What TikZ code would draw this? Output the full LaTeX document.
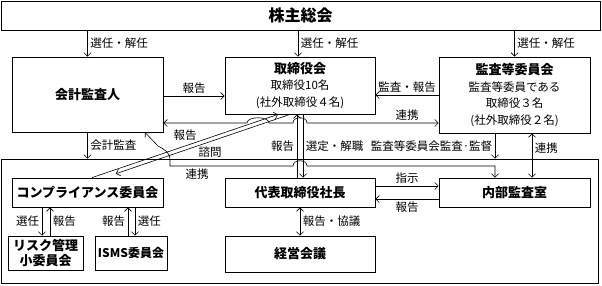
\documentclass[tikz,border=0pt]{standalone}
\usepackage{fontspec}
\setmainfont{Noto Sans CJK JP}
\usetikzlibrary{positioning,arrows.meta}

\begin{document}
\begin{tikzpicture}[x=1pt,y=-1pt,line width=0.6pt,node distance=2cm,on grid,
    >={Straight Barb[length=3.5pt,width=7pt]},
    box/.style={draw,line width=0.8pt,inner sep=0pt,align=center,font=\fontsize{13}{15}\selectfont\bfseries},
    boxm/.style={box,font=\fontsize{11.5}{16.5}\selectfont},
    lbl/.style={font=\fontsize{11.5}{14}\selectfont,inner sep=2.5pt}]
    \useasboundingbox (0,0) rectangle (602,285);
    \node[box,minimum width=599pt,minimum height=29pt,font=\fontsize{16}{18}\selectfont\bfseries] (kabu) at (300.5,15.5) {株主総会};
    \node[box,minimum width=151pt,minimum height=75pt] (kaikei) at (87.5,94.5) {会計監査人};
    \node[boxm,minimum width=150pt,minimum height=57pt] (torishimari) at (300,85.5)
        {{\bfseries\fontsize{13}{16.5}\selectfont 取締役会}\\取締役10名\\(社外取締役４名)};
    \node[boxm,minimum width=151pt,minimum height=76pt] (kansa) at (514.5,95)
        {{\bfseries\fontsize{13}{16.5}\selectfont 監査等委員会}\\監査等委員である\\取締役３名\\(社外取締役２名)};
    \node[box,minimum width=597pt,minimum height=124pt] (shikko) at (299.5,221) {};
    \node[box,minimum width=151pt,minimum height=29pt] (comp) at (87.5,192.5) {コンプライアンス委員会};
    \node[box,minimum width=150pt,minimum height=29pt] (shacho) [below=107pt of torishimari] {代表取締役社長};
    \node[box,minimum width=151pt,minimum height=29pt] (naibu) [below=97.5pt of kansa] {内部監査室};
    \node[box,minimum width=150pt,minimum height=36pt] (keiei) [below=61.5pt of shacho] {経営会議};
    \node[box,minimum width=75pt,minimum height=34pt,font=\fontsize{13}{15}\selectfont\bfseries] (risk) at (45.5,253) {リスク管理\\小委員会};
    \node[box,minimum width=72pt,minimum height=34pt,font=\fontsize{12}{14}\selectfont\bfseries] (isms) at (131,253) {ISMS委員会};

    \path[->]
    (kaikei.north |- kabu.south) edge node[lbl,right] {選任・解任} (kaikei.north)
    ([xshift=-2pt]torishimari.north |- kabu.south) edge node[lbl,right] {選任・解任} ([xshift=-2pt]torishimari.north)
    (kansa.north |- kabu.south) edge node[lbl,right] {選任・解任} (kansa.north)
    ([yshift=-1.5pt]kaikei.east) edge node[lbl,above] {報告} ([yshift=-1.5pt]kaikei.east -| torishimari.west)
    (kansa.west) edge node[lbl,above] {監査・報告} (kansa.west -| torishimari.east)
    (kaikei.south) edge node[lbl,right] {会計監査} (kaikei.south |- shikko.north)
    ([xshift=-3pt]shacho.north) edge node[lbl,left] {報告} ([xshift=-3pt]torishimari.south)
    ([xshift=3pt]torishimari.south) edge node[lbl,right] {選定・解職} ([xshift=3pt]shacho.north)
    ([xshift=-19.5pt]kansa.south) edge node[lbl,left] {監査等委員会監査·監督} ([xshift=-19.5pt]kansa.south |- shikko.north)
    ([xshift=17.5pt]kansa.south) edge[<->] node[lbl,right,pos=0.33] {連携} ([xshift=17.5pt]naibu.north)
    ([yshift=6.5pt]shacho.east) edge node[lbl,above] {指示} ([yshift=6.5pt]shacho.east -| naibu.west)
    ([yshift=-6.5pt]naibu.west) edge node[lbl,below] {報告} ([yshift=-6.5pt]naibu.west -| shacho.east)
    (shacho) edge[<->] node[lbl,right] {報告・協議} (keiei)
    ([xshift=-3.5pt]risk.north |- comp.south) edge node[lbl,left] {選任} ([xshift=-3.5pt]risk.north)
    ([xshift=4.5pt]risk.north) edge node[lbl,right] {報告} ([xshift=4.5pt]risk.north |- comp.south)
    ([xshift=-3pt]isms.north) edge node[lbl,left] {報告} ([xshift=-3pt]isms.north |- comp.south)
    ([xshift=4pt]isms.north |- comp.south) edge node[lbl,right] {選任} ([xshift=4pt]isms.north);

    \draw[->] ([xshift=4.5pt]comp.north) -- node[lbl,above,pos=0.5,yshift=3pt] {報告} ([xshift=-22pt]torishimari.south);
    \draw[->,shorten >=12pt] ([xshift=-10pt]torishimari.south) -- node[lbl,below,pos=0.43,yshift=-2pt] {諮問} ([xshift=17pt]comp.north);

    \draw[<->] ([yshift=-28.5pt]kaikei.east) -- (247,123) .. controls (247,116) and (269,116) .. (269,123)
        -- (293,123) .. controls (293,116) and (307,116) .. (307,123)
        -- node[lbl,above,pos=0.76] {連携} ([yshift=-28.5pt]kaikei.east -| kansa.west);
    \draw[<->] ([xshift=-19.5pt]naibu.north) |- (307,166) .. controls (307,159) and (293,159) .. (293,166)
        -- node[lbl,below,pos=0.78] {連携} (170,166) -- (170,160) .. controls (170,152) and (165,150) .. (158,146)
        -- ([xshift=57.5pt]kaikei.south);
\end{tikzpicture}
\end{document}
